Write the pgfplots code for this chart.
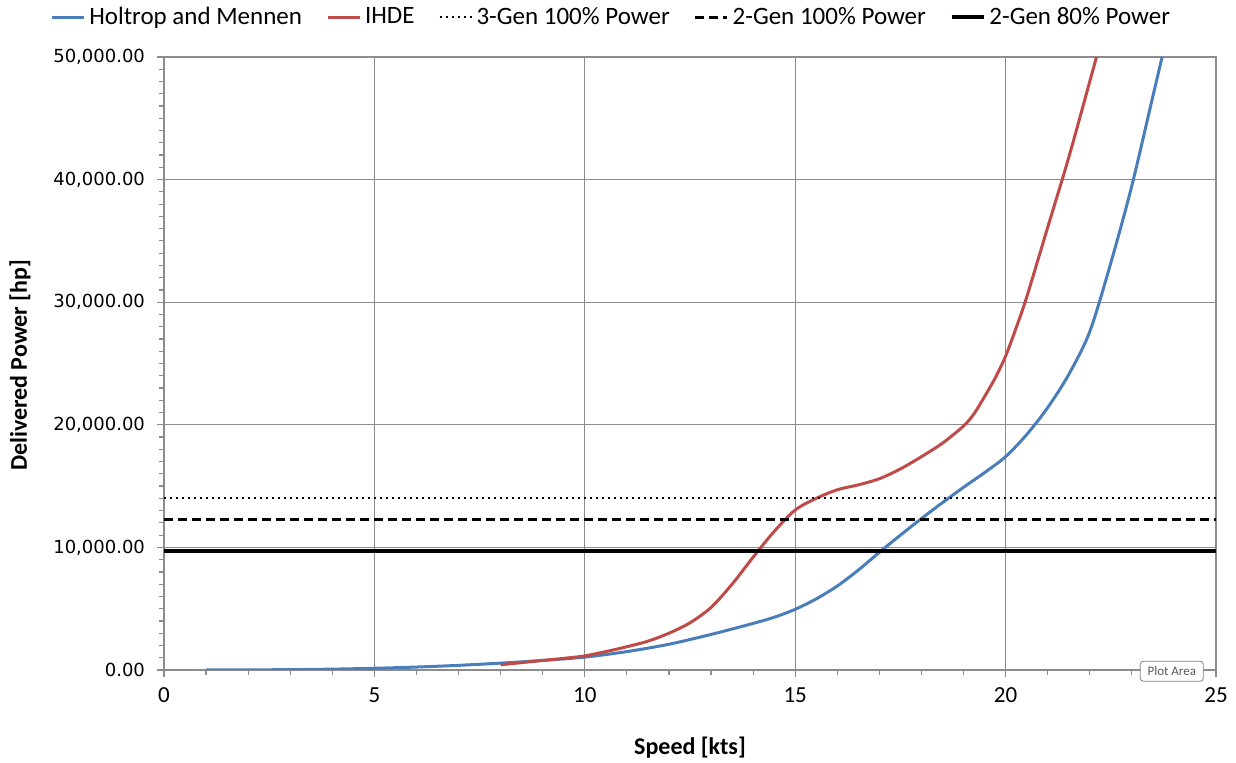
\documentclass[border=0pt]{standalone}
\usepackage{pgfplots}
\pgfplotsset{compat=1.18}
\usepackage{fontspec}
\setmainfont{Carlito}
\newfontfamily\tickfont{DejaVu Sans}
\definecolor{hmblue}{HTML}{4A7EBB}
\definecolor{ihred}{HTML}{BE4B48}
\definecolor{gridgray}{HTML}{8C8C8C}
\begin{document}
\begin{tikzpicture}
\begin{axis}[
  scale only axis, width=526pt, height=306.5pt,
  xmin=0, xmax=25, ymin=0, ymax=50000,
  xtick={0,5,...,25}, ytick={0,10000,...,50000},
  minor x tick num=4, minor y tick num=9,
  tick pos=left, tick align=outside,
  major tick length=3.5pt, minor tick length=2.5pt,
  every tick/.style={gridgray, line width=0.6pt},
  grid=major, major grid style={gridgray, line width=0.6pt},
  axis line style={gridgray, line width=0.6pt},
  scaled y ticks=false,
  x tick label style={font=\fontsize{11.5}{13}\selectfont, yshift=-2pt, /pgf/number format/assume math mode=true},
  y tick label style={font=\tickfont\fontsize{9}{11}\selectfont, xshift=-2.5pt,
     /pgf/number format/.cd, fixed, fixed zerofill, precision=2, 1000 sep={,}, assume math mode=true},
  xlabel={\bfseries Speed [kts]},
  ylabel={\bfseries Delivered Power [hp]},
  xlabel style={at={(axis description cs:0.5,-0.127)}, anchor=center, font=\fontsize{12}{14}\selectfont},
  ylabel style={at={(axis description cs:-0.137,0.497)}, anchor=center, font=\fontsize{12}{14}\selectfont},
  legend columns=-1,
  legend style={at={(axis description cs:0.426,1.065)}, anchor=center, draw=none, fill=none,
    font=\fontsize{12.5}{14}\selectfont,
    /tikz/every even column/.append style={column sep=10pt}},
  legend image code/.code={\draw[#1] (0pt,0pt) -- (16pt,0pt);},
  clip mode=individual,
]
\addplot[hmblue, line width=1.5pt, smooth] coordinates {
(1,1) (2,10) (3,30) (4,70) (5,140) (6,240) (7,380) (8,560) (9,780) (10,1050)
(11,1500) (12,2100) (13,2900) (14,3800) (14.5,4300) (15,4950) (15.5,5800) (16,6850)
(16.5,8150) (17,9600) (17.5,11000) (18,12350) (18.5,13650)
(19,14900) (19.5,16100) (20,17400) (20.5,19200) (21,21400) (21.5,24100) (22,27600) (22.5,33200)
(23,39500) (23.5,46800) (23.72,50000)
};
\addlegendentry{Holtrop and Mennen}
\addplot[ihred, line width=1.5pt, smooth] coordinates {
(8,430) (8.5,600) (9,780) (9.5,950) (10,1150) (10.5,1500) (11,1900) (11.5,2350)
(12,3000) (12.5,3850) (13,5100) (13.5,7000) (14,9200) (14.5,11300) (15,13050)
(15.5,14000) (16,14700) (16.5,15100) (17,15600) (17.5,16400) (18,17400) (18.5,18500)
(19,19900) (19.25,20900) (19.5,22300) (19.75,23800) (20,25600) (20.25,27900) (20.5,30400)
(21,36100) (21.5,41800) (22,48000) (22.16,50000)
};
\addlegendentry{IHDE}
\addplot[black, line width=1pt, dash pattern=on 1pt off 2pt] coordinates {(0,14000) (25,14000)};
\addlegendentry{3-Gen 100\% Power}
\addplot[black, line width=1.5pt, dash pattern=on 4.5pt off 2.5pt] coordinates {(0,12300) (25,12300)};
\addlegendentry{2-Gen 100\% Power}
\addplot[black, line width=1.8pt] coordinates {(0,9700) (25,9700)};
\addlegendentry{2-Gen 80\% Power}
\node[draw=gray, rounded corners=1.5pt, fill=white, text=black!65, font=\fontsize{6.5}{7}\selectfont,
  minimum width=31.5pt, minimum height=10pt, inner sep=1pt] at (rel axis cs:0.958,-0.002) {Plot Area};
\coordinate (sw) at (rel axis cs:0,0);
\coordinate (ne) at (rel axis cs:1,1);
\end{axis}
\pgfresetboundingbox
\path ([shift={(-82pt,-46.5pt)}]sw) rectangle ([shift={(10pt,28.5pt)}]ne);
\end{tikzpicture}
\end{document}
